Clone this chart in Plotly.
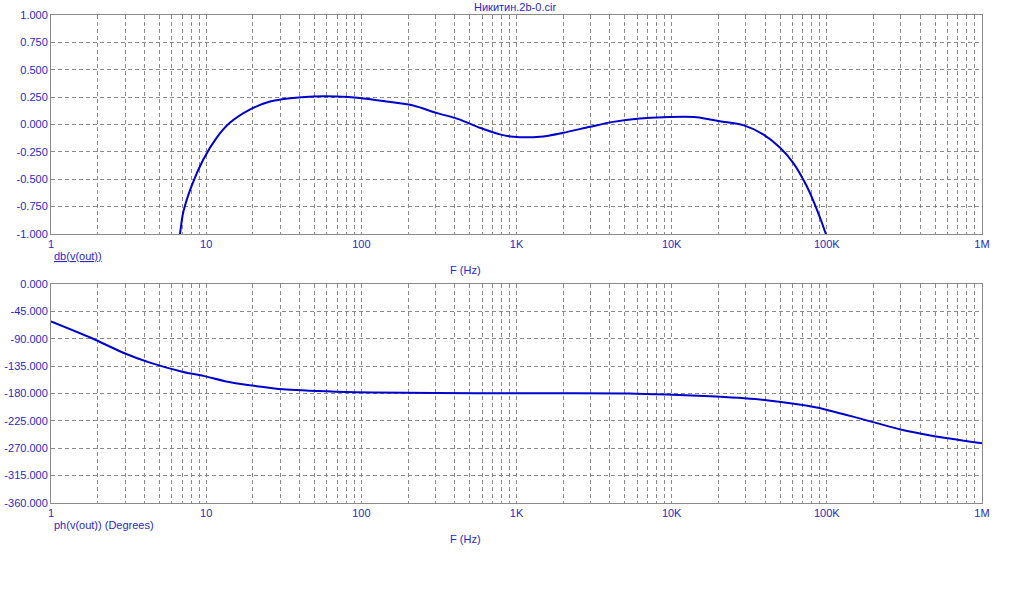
import plotly.graph_objects as go

# ---- data ----
freq_gain = [6.5, 6.78, 7.12, 8.06, 9.58, 11.7, 14.2, 19.1, 25.8, 34.8, 49, 69.3, 98, 145,
             216, 305, 432, 581, 782, 953, 1417, 2000, 2970, 4200, 6240, 8810, 14460,
             20450, 28900, 38900, 49800, 60700, 74000, 85900, 98600, 105000]
gain_db = [-1.18, -1.0, -0.80, -0.56, -0.32, -0.12, 0.015, 0.136, 0.21, 0.24, 0.256, 0.256,
           0.242, 0.21, 0.173, 0.106, 0.045, -0.03, -0.09, -0.112, -0.112, -0.076, -0.021,
           0.024, 0.055, 0.067, 0.067, 0.03, -0.006, -0.09, -0.21, -0.35, -0.56, -0.77,
           -1.0, -1.13]

freq_phase = [1, 1.87, 2.92, 4.34, 7.12, 9.58, 14.6, 31.3, 69, 119, 300, 1000, 5380, 9270,
              19450, 40900, 85900, 140700, 295000, 484000, 1000000]
phase_deg = [-61.5, -90, -113, -129.3, -144.6, -151, -162, -173, -177, -178.3, -179.3, -179.5,
             -179.8, -181.6, -185, -191, -203, -216.8, -238.7, -249.7, -261.8]

x_major = [1, 10, 100, 1000, 10000, 100000, 1000000]
x_major_labels = ["1", "10", "100", "1K", "10K", "100K", "1M"]
gain_ticks = [1.0, 0.75, 0.5, 0.25, 0.0, -0.25, -0.5, -0.75, -1.0]
phase_ticks = [0, -45, -90, -135, -180, -225, -270, -315, -360]

title_text = "Никитин.2b-0.cir"
gain_label = "db(v(out))"
phase_label = "ph(v(out)) (Degrees)"
x_label = "F (Hz)"

# ---- styling ----
TXT = "#2828c8"
LINE = "#0000cc"
GRID = "#8a8a8a"
FONT = "Liberation Sans"

# full log grid: majors + 2..9 minors, labels only on majors
xvals, xtext = [], []
for i, m in enumerate(x_major):
    xvals.append(m)
    xtext.append(x_major_labels[i])
    if i < len(x_major) - 1:
        for k in range(2, 10):
            xvals.append(m * k)
            xtext.append("")

def fmt(v):
    return f"{v:.3f}"

fig = go.Figure()
fig.add_trace(go.Scatter(x=freq_gain, y=gain_db, mode="lines",
                         line=dict(color=LINE, width=2, shape="spline", smoothing=0.8),
                         xaxis="x", yaxis="y", showlegend=False, hoverinfo="skip"))
fig.add_trace(go.Scatter(x=freq_phase, y=phase_deg, mode="lines",
                         line=dict(color=LINE, width=2, shape="spline", smoothing=0.6),
                         xaxis="x2", yaxis="y2", showlegend=False, hoverinfo="skip"))

W, H = 1011, 600
# target plot-area pixel boxes in the window
PL, PR = 51, 982
TOP1, BOT1 = 15, 234
TOP2, BOT2 = 284, 503

L = PL
R = W - PR
T = TOP1
B = H - BOT2
ph = H - T - B
top_dom = [(BOT2 - BOT1) / ph, 1.0]
bot_dom = [0.0, (BOT2 - TOP2) / ph]

xcommon = dict(type="log", range=[0, 6], tickvals=xvals, ticktext=xtext,
               showgrid=True, gridcolor=GRID, griddash="4px,3px", gridwidth=1,
               showline=True, linecolor=GRID, linewidth=1, mirror=True,
               ticks="", zeroline=False, automargin=False,
               tickfont=dict(family=FONT, size=11, color=TXT))
ycommon = dict(showgrid=True, gridcolor=GRID, griddash="4px,3px", gridwidth=1,
               showline=True, linecolor=GRID, linewidth=1, mirror=True,
               ticks="", zeroline=False, automargin=False,
               tickfont=dict(family=FONT, size=11, color=TXT))

fig.update_layout(
    width=W, height=H, autosize=False,
    margin=dict(l=L, r=R, t=T, b=B, autoexpand=False),
    paper_bgcolor="white", plot_bgcolor="white",
    font=dict(family=FONT, size=11, color=TXT),
    xaxis=dict(domain=[0, 1], anchor="y", **xcommon),
    yaxis=dict(domain=top_dom, anchor="x", range=[-1, 1],
               tickvals=gain_ticks, ticktext=[fmt(v) for v in gain_ticks], **ycommon),
    xaxis2=dict(domain=[0, 1], anchor="y2", **xcommon),
    yaxis2=dict(domain=bot_dom, anchor="x2", range=[-360, 0],
                tickvals=phase_ticks, ticktext=[fmt(v) for v in phase_ticks], **ycommon),
)

def px(xp):
    return (xp - PL) / (PR - PL)

def py(yp):
    return (BOT2 - yp) / ph

annos = [
    dict(text=title_text, x=px(515), y=py(7)),
    dict(text="<u>" + gain_label + "</u>", x=px(52), y=py(256), xanchor="left"),
    dict(text=x_label, x=px(465), y=py(270)),
    dict(text=phase_label, x=px(52), y=py(525), xanchor="left"),
    dict(text=x_label, x=px(465), y=py(539)),
]
for a in annos:
    a.setdefault("xanchor", "center")
    fig.add_annotation(xref="paper", yref="paper", showarrow=False, yanchor="middle",
                       font=dict(family=FONT, size=11, color=TXT), **a)

fig.write_html("out.html",
               config={"displayModeBar": False, "staticPlot": True},
               post_script="document.body.style.margin='0';document.body.style.overflow='hidden';")
